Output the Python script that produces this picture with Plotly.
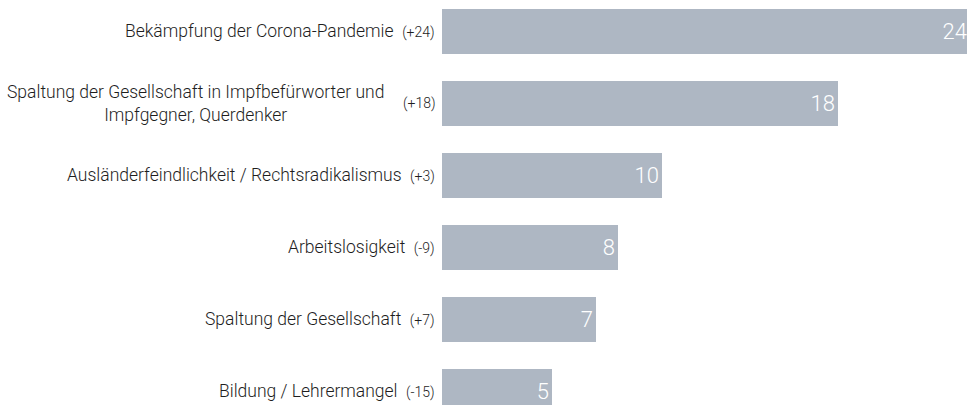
import plotly.graph_objects as go

# Wichtigste Probleme – Nennungen in %, Veränderung in Klammern
themen = [
    "Bekämpfung der Corona-Pandemie",
    "Spaltung der Gesellschaft in Impfbefürworter und<br>Impfgegner, Querdenker",
    "Ausländerfeindlichkeit / Rechtsradikalismus",
    "Arbeitslosigkeit",
    "Spaltung der Gesellschaft",
    "Bildung / Lehrermangel",
]
werte = [24, 18, 10, 8, 7, 5]
veraenderung = ["+24", "+18", "+3", "-9", "+7", "-15"]

BAR_COLOR = "#aeb7c3"
TEXT_COLOR = "#1e1e1e"
FONT = "Roboto, 'Open Sans', sans-serif"

fig = go.Figure()
fig.add_trace(go.Bar(
    x=werte,
    y=themen,
    orientation="h",
    marker=dict(color=BAR_COLOR, line=dict(width=0)),
    width=0.625,
    text=[str(v) for v in werte],
    textposition="inside",
    insidetextanchor="end",
    textangle=0,
    textfont=dict(family=FONT, size=22, color="white", weight=300),
    hoverinfo="skip",
))

# Beschriftungen links der Balken
for thema, chg in zip(themen, veraenderung):
    chg_html = f"<span style='font-size:14px'>({chg})</span>"
    if "<br>" in thema:
        fig.add_annotation(x=0, y=thema, xref="x", yref="y", text=thema,
                           xanchor="right", align="center", showarrow=False,
                           xshift=-56, font=dict(family=FONT, size=17.5, color=TEXT_COLOR, weight=300))
        fig.add_annotation(x=0, y=thema, xref="x", yref="y", text=f"({chg})",
                           xanchor="right", showarrow=False, xshift=-5,
                           font=dict(family=FONT, size=14, color=TEXT_COLOR, weight=300))
    else:
        fig.add_annotation(x=0, y=thema, xref="x", yref="y",
                           text=f"{thema}&nbsp;&nbsp;{chg_html}",
                           xanchor="right", align="right", showarrow=False, xshift=-5,
                           font=dict(family=FONT, size=17.5, color=TEXT_COLOR, weight=300))

# Grafik ist rechts beschnitten: Plotfläche reicht etwas über das Fenster hinaus
fig.update_layout(
    width=975,
    height=405,
    margin=dict(l=442, r=0, t=0, b=0),
    paper_bgcolor="white",
    plot_bgcolor="white",
    showlegend=False,
    bargap=0,
)
fig.update_xaxes(range=[0, 533 / 22], visible=False, fixedrange=True)
fig.update_yaxes(range=[5.194, -0.431], showticklabels=False, showgrid=False,
                 zeroline=False, showline=False, ticks="", fixedrange=True)

fig.write_html("out.html", config={"displayModeBar": False},
               post_script="document.body.style.margin='0';document.body.style.overflow='hidden';")
